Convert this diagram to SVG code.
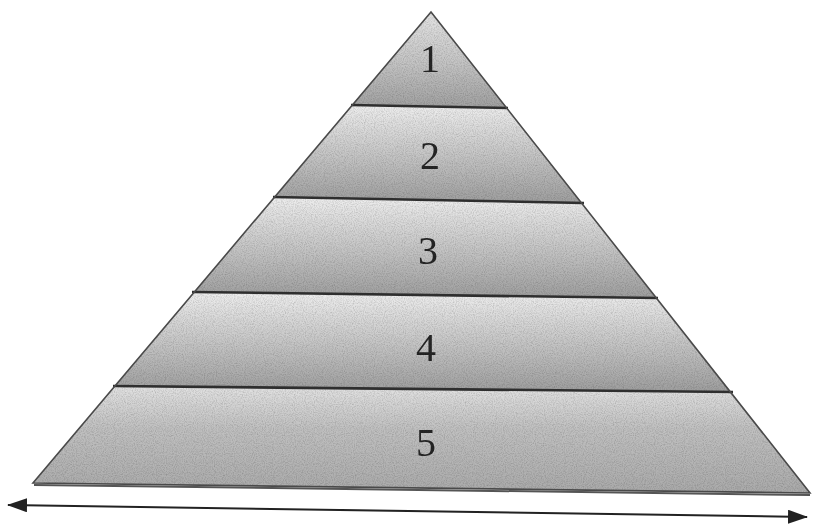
<svg xmlns="http://www.w3.org/2000/svg" width="813" height="526" viewBox="0 0 813 526">
  <defs>
    <linearGradient id="g1" x1="0" y1="0" x2="0" y2="1">
      <stop offset="0" stop-color="#e4e4e4"/>
      <stop offset="0.5" stop-color="#c6c6c6"/>
      <stop offset="1" stop-color="#a0a0a0"/>
    </linearGradient>
    <linearGradient id="g2" x1="0" y1="0" x2="0" y2="1">
      <stop offset="0" stop-color="#eeeeee"/>
      <stop offset="0.45" stop-color="#cacaca"/>
      <stop offset="1" stop-color="#9e9e9e"/>
    </linearGradient>
    <linearGradient id="g5" x1="0" y1="0" x2="0" y2="1">
      <stop offset="0" stop-color="#e2e2e2"/>
      <stop offset="0.4" stop-color="#c0c0c0"/>
      <stop offset="1" stop-color="#aaaaaa"/>
    </linearGradient>
    <filter id="grain" x="0" y="0" width="100%" height="100%">
      <feTurbulence type="fractalNoise" baseFrequency="0.9" numOctaves="2" seed="3" result="n"/>
      <feColorMatrix in="n" type="matrix" values="0 0 0 0 0.45  0 0 0 0 0.45  0 0 0 0 0.45  1.2 0 0 0 -0.45" result="g"/>
      <feComposite in="g" in2="SourceGraphic" operator="in" result="gm"/>
      <feBlend in="SourceGraphic" in2="gm" mode="multiply"/>
    </filter>
    <marker id="ah" viewBox="0 0 20 14" refX="19" refY="7" markerWidth="20" markerHeight="14" markerUnits="userSpaceOnUse" orient="auto-start-reverse">
      <path d="M0,0 L20,7 L0,14 Z" fill="#222"/>
    </marker>
    <style>
      .band { stroke: none; }
      .edge { fill: none; stroke: #4a4a4a; stroke-width: 1.6; stroke-linejoin: miter; }
      .sep { stroke: #2e2e2e; stroke-width: 2.6; }
      .num { font-family: "Liberation Serif", "Times New Roman", serif; font-size: 40px; fill: #262626; text-anchor: middle; }
      .conn { stroke: #222; stroke-width: 2; fill: none; }
    </style>
  </defs>
  <rect width="813" height="526" fill="#ffffff"/>

  <g filter="url(#grain)">
    <g id="level-1">
      <polygon class="band" fill="url(#g1)" points="431,12 507,108 352,105"/>
      <text class="num" x="430" y="72">1</text>
    </g>
    <g id="level-2">
      <polygon class="band" fill="url(#g2)" points="352,105 507,108 582,203 275,197"/>
      <text class="num" x="430" y="169">2</text>
    </g>
    <g id="level-3">
      <polygon class="band" fill="url(#g2)" points="275,197 582,203 656,298 194,292"/>
      <text class="num" x="428" y="264">3</text>
    </g>
    <g id="level-4">
      <polygon class="band" fill="url(#g2)" points="194,292 656,298 731,392 115,386"/>
      <text class="num" x="426" y="361">4</text>
    </g>
    <g id="level-5">
      <polygon class="band" fill="url(#g5)" points="115,386 731,392 810,493 33,483"/>
      <text class="num" x="426" y="456">5</text>
    </g>
  </g>

  <g id="outlines">
    <line class="sep" x1="351" y1="105" x2="508" y2="108"/>
    <line class="sep" x1="273" y1="197" x2="584" y2="203"/>
    <line class="sep" x1="192" y1="292" x2="658" y2="298"/>
    <line class="sep" x1="113" y1="386" x2="733" y2="392"/>
    <polygon class="edge" points="431,12 810,493 33,483"/>
    <line x1="34" y1="485" x2="810" y2="495" stroke="#555" stroke-width="2"/>
  </g>

  <g id="connectors">
    <line class="conn" x1="8" y1="505" x2="807" y2="517" marker-start="url(#ah)" marker-end="url(#ah)"/>
  </g>
</svg>
